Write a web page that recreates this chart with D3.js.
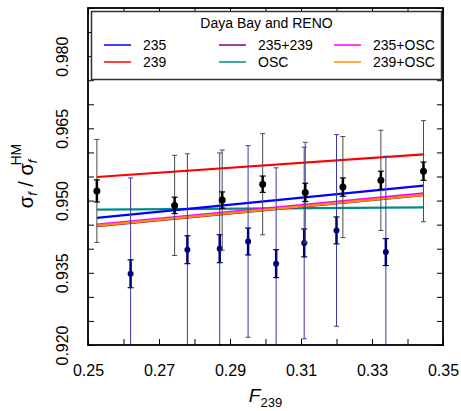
<!DOCTYPE html>
<html>
<head>
<meta charset="utf-8">
<script src="https://cdn.jsdelivr.net/npm/d3@7"></script>
<style>
  body { margin: 0; background: #fff; }
  text { font-family: "Liberation Sans", Arial, sans-serif; }
</style>
</head>
<body>
<script>
// Daya Bay points
const dybF = [0.2525, 0.2744, 0.2878, 0.2992, 0.3112, 0.3218, 0.3325, 0.3445];
const dybVal = [0.9520, 0.9490, 0.9501, 0.9534, 0.9517, 0.9528, 0.9542, 0.9561];
const dybStat = [0.0023, 0.0017, 0.0017, 0.0017, 0.0019, 0.0019, 0.0019, 0.0019];
const dybTot = [0.0107, 0.0104, 0.0104, 0.0105, 0.0104, 0.0105, 0.0104, 0.0105];

// RENO points
const renoF = [0.2620, 0.2780, 0.2871, 0.2951, 0.3030, 0.3109, 0.3200, 0.3339];
const renoVal = [0.9348, 0.9398, 0.9400, 0.9415, 0.9369, 0.9412, 0.9438, 0.9393];
const renoStat = [0.0029, 0.0029, 0.0029, 0.0028, 0.0029, 0.0029, 0.0028, 0.0028];
const renoTot = [0.0199, 0.0199, 0.0199, 0.0199, 0.0199, 0.0199, 0.0199, 0.0199];

// model fits: value at first and last F239
const fitF = [0.2525, 0.3445];
const fitNames = ["235", "239", "235+239", "OSC", "235+OSC", "239+OSC"];
const fitVals = [
  [0.9464, 0.9531],
  [0.9549, 0.9596],
  [0.9447, 0.9511],
  [0.9481, 0.9486],
  [0.9450, 0.9515],
  [0.9448, 0.9512]
];
const fitColors = ["#0000ff", "#ff0000", "#800080", "#008b8b", "#ff00ff", "#ff8c00"];
const drawOrder = [3, 0, 1, 2, 4, 5];

const xTicks = [0.25, 0.26, 0.27, 0.28, 0.29, 0.30, 0.31, 0.32, 0.33, 0.34, 0.35];
const xLabels = [0.25, 0.27, 0.29, 0.31, 0.33, 0.35];
const yTicks = [0.920, 0.925, 0.930, 0.935, 0.940, 0.945, 0.950, 0.955, 0.960, 0.965, 0.970, 0.975, 0.980, 0.985, 0.990];
const yLabels = [0.920, 0.935, 0.950, 0.965, 0.980];

const W = 461, H = 411;
const mL = 88, mR = 443, mT = 8, mB = 345;

const svg = d3.select('body').append('svg')
  .attr('width', W).attr('height', H);

const x = d3.scaleLinear().domain([0.25, 0.35]).range([mL, mR]);
const y = d3.scaleLinear().domain([0.92, 0.99]).range([mB, mT]);

svg.append('clipPath').attr('id', 'clip')
  .append('rect').attr('x', mL).attr('y', mT)
  .attr('width', mR - mL).attr('height', mB - mT);

const plot = svg.append('g').attr('clip-path', 'url(#clip)');

// fit lines
const line = d3.line().x(d => x(d[0])).y(d => y(d[1]));
drawOrder.forEach(i => {
  plot.append('path')
    .datum(fitF.map((f, j) => [f, fitVals[i][j]]))
    .attr('d', line)
    .attr('fill', 'none')
    .attr('stroke', fitColors[i])
    .attr('stroke-width', 2.2);
});

function errBars(F, V, S, T, outerColor, innerColor, dotColor, r) {
  const g = plot.append('g');
  F.forEach((f, i) => {
    const cx = x(f);
    // total error
    g.append('line').attr('x1', cx).attr('x2', cx)
      .attr('y1', y(V[i] + T[i])).attr('y2', y(V[i] - T[i]))
      .attr('stroke', outerColor).attr('stroke-width', 1);
    [V[i] + T[i], V[i] - T[i]].forEach(v => {
      g.append('line').attr('x1', cx - 2.5).attr('x2', cx + 2.5)
        .attr('y1', y(v)).attr('y2', y(v))
        .attr('stroke', outerColor).attr('stroke-width', 1);
    });
    // stat error
    g.append('line').attr('x1', cx).attr('x2', cx)
      .attr('y1', y(V[i] + S[i])).attr('y2', y(V[i] - S[i]))
      .attr('stroke', innerColor).attr('stroke-width', 2.5);
    [V[i] + S[i], V[i] - S[i]].forEach(v => {
      g.append('line').attr('x1', cx - 3).attr('x2', cx + 3)
        .attr('y1', y(v)).attr('y2', y(v))
        .attr('stroke', innerColor).attr('stroke-width', 1.2);
    });
    g.append('circle').attr('cx', cx).attr('cy', y(V[i])).attr('r', r)
      .attr('fill', dotColor);
  });
}

errBars(renoF, renoVal, renoStat, renoTot, '#3a3aa8', '#00007a', '#00007a', 3);
errBars(dybF, dybVal, dybStat, dybTot, '#4a4a4a', '#000000', '#000000', 3.5);

// axes with inward ticks
const fmtX = d => xLabels.some(v => Math.abs(v - d) < 1e-9) ? d3.format('.2f')(d) : '';
const fmtY = d => yLabels.some(v => Math.abs(v - d) < 1e-9) ? d3.format('.3f')(d) : '';

const xAxis = svg.append('g').attr('transform', `translate(0,${mB})`)
  .call(d3.axisBottom(x).tickValues(xTicks).tickSize(-6).tickPadding(20).tickFormat(fmtX));
xAxis.selectAll('text').attr('font-size', 16).attr('fill', '#000');

svg.append('g').attr('transform', `translate(0,${mT})`)
  .call(d3.axisTop(x).tickValues(xTicks).tickSize(-6).tickFormat(''));

const yAxis = svg.append('g').attr('transform', `translate(${mL},0)`)
  .call(d3.axisLeft(y).tickValues(yTicks).tickSize(-6).tickFormat(fmtY));
yAxis.selectAll('text')
  .attr('font-size', 16).attr('fill', '#000')
  .attr('text-anchor', 'middle')
  .attr('x', null).attr('dy', null)
  .attr('transform', 'translate(-20,0) rotate(-90)');

svg.append('g').attr('transform', `translate(${mR},0)`)
  .call(d3.axisRight(y).tickValues(yTicks).tickSize(-6).tickFormat(''));

svg.selectAll('.domain').remove();
svg.selectAll('.tick line').attr('stroke', '#000').attr('stroke-width', 1);

// legend box
const lg = svg.append('g');
lg.append('rect').attr('x', 91.5).attr('y', 11.5).attr('width', 350).attr('height', 68)
  .attr('fill', '#fff').attr('stroke', '#333').attr('stroke-width', 1.5);
lg.append('text').attr('x', 266.5).attr('y', 28).attr('text-anchor', 'middle')
  .attr('font-size', 14).text('Daya Bay and RENO');

const colX = [104, 219, 334];
const rowY = [45, 62];
const legendPos = [[0, 0], [0, 1], [1, 0], [1, 1], [2, 0], [2, 1]];
fitNames.forEach((name, i) => {
  const c = legendPos[i][0], r = legendPos[i][1];
  lg.append('line').attr('x1', colX[c]).attr('x2', colX[c] + 27)
    .attr('y1', rowY[r]).attr('y2', rowY[r])
    .attr('stroke', fitColors[i]).attr('stroke-width', 1.5);
  lg.append('text').attr('x', colX[c] + 39).attr('y', rowY[r] + 5)
    .attr('font-size', 14).text(name);
});

// frame
svg.append('rect').attr('x', mL).attr('y', mT)
  .attr('width', mR - mL).attr('height', mB - mT)
  .attr('fill', 'none').attr('stroke', '#000').attr('stroke-width', 1.8);

// axis titles
const xt = svg.append('text').attr('x', (mL + mR) / 2).attr('y', 402)
  .attr('text-anchor', 'middle').attr('font-size', 19);
xt.append('tspan').attr('font-style', 'italic').text('F');
xt.append('tspan').attr('font-size', 13).attr('dy', 5).text('239');

const yt = svg.append('text')
  .attr('transform', `translate(33,176) rotate(-90)`)
  .attr('text-anchor', 'middle').attr('font-size', 20);
yt.append('tspan').text('σ');
yt.append('tspan').attr('font-size', 13).attr('font-style', 'italic').attr('dy', 4).text('f');
yt.append('tspan').attr('dy', -4).text(' / σ');
yt.append('tspan').attr('font-size', 13).attr('font-style', 'italic').attr('dy', 4).text('f');
yt.append('tspan').attr('font-size', 14).attr('dx', -6).attr('dy', -16).text('HM');
</script>
</body>
</html>
